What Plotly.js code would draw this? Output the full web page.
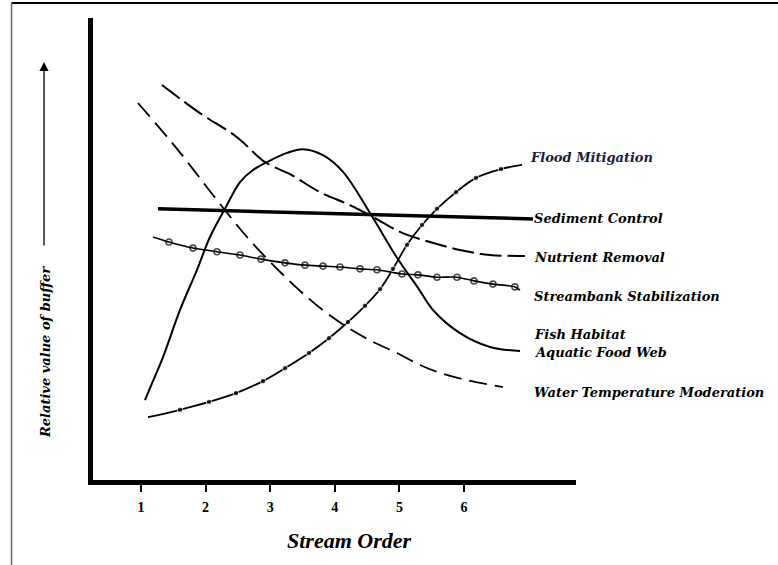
<!DOCTYPE html>
<html>
<head>
<meta charset="utf-8">
<script src="https://cdn.plot.ly/plotly-3.0.1.min.js"></script>
<style>html,body{margin:0;padding:0;background:#fff;}#chart{width:778px;height:565px;}</style>
</head>
<body>
<div id="chart"></div>
<script>
// Stream order positions and relative buffer values (0-100)
const tickValues = [1, 2, 3, 4, 5, 6];
const tickLabels = ["1", "2", "3", "4", "5", "6"];

const floodX = [1.108, 1.604, 2.053, 2.471, 2.889, 3.229, 3.601, 3.910, 4.204, 4.467, 4.700, 4.901, 5.118, 5.350, 5.582, 5.876, 6.186, 6.573, 6.898];
const floodY = [13.6, 15.2, 16.9, 18.8, 21.4, 24.2, 27.5, 30.7, 34.2, 37.7, 41.3, 45.7, 50.9, 55.2, 58.7, 62.3, 65.4, 67.3, 68.2];

const sedimentX = [1.263, 7.068];
const sedimentY = [58.7, 56.5];

const nutrientX = [1.325, 1.913, 2.486, 2.920, 3.307, 3.771, 4.235, 4.622, 5.009, 5.474, 5.938, 6.402, 6.944];
const nutrientY = [85.5, 79.4, 74.2, 68.8, 66.2, 62.3, 59.5, 56.7, 53.7, 51.5, 49.8, 48.7, 48.5];

const streambankX = [1.186, 1.433, 1.805, 2.176, 2.533, 2.858, 3.229, 3.539, 3.817, 4.080, 4.390, 4.653, 5.040, 5.288, 5.582, 5.892, 6.155, 6.449, 6.789, 6.867];
const streambankY = [52.6, 51.5, 50.2, 49.4, 48.7, 47.8, 47.0, 46.5, 46.3, 46.1, 45.7, 45.5, 44.6, 44.4, 43.9, 43.9, 43.1, 42.4, 41.8, 41.1];

const fishX = [1.062, 1.139, 1.341, 1.604, 1.867, 2.068, 2.300, 2.533, 2.734, 2.950, 3.260, 3.508, 3.817, 4.127, 4.545, 4.963, 5.288, 5.520, 5.938, 6.402, 6.867];
const fishY = [17.3, 19.9, 26.6, 36.8, 45.5, 52.6, 58.7, 64.5, 67.1, 68.8, 70.8, 71.6, 70.3, 66.7, 57.8, 48.1, 41.6, 36.8, 31.8, 28.8, 27.9];

const waterX = [0.954, 1.573, 2.176, 2.641, 3.121, 3.570, 3.879, 4.189, 4.591, 4.963, 5.319, 5.628, 6.046, 6.604];
const waterY = [81.6, 71.4, 60.6, 52.6, 45.5, 39.6, 36.1, 33.1, 29.9, 27.5, 24.9, 23.2, 21.6, 20.1];

const seriesLabels = ["Flood Mitigation", "Sediment Control", "Nutrient Removal", "Streambank Stabilization", "Fish Habitat", "Aquatic Food Web", "Water Temperature Moderation"];
const labelX = [6.99, 7.053, 7.053, 7.053, 7.053, 7.053, 7.053];
const labelY = [69.9, 56.5, 48.1, 39.8, 31.6, 27.5, 19.0];

const floodMarkerSize = floodX.map((v, i) => (i === 0 || i === floodX.length - 1) ? 0 : 5.5);
const bankMarkerSize = streambankX.map((v, i) => (i === 0 || i === streambankX.length - 1) ? 0 : 6);

const traces = [
  {x: waterX, y: waterY, mode: 'lines', name: 'Water Temperature Moderation',
   line: {color: '#000', width: 1.8, dash: '18px,8px', shape: 'spline', smoothing: 1}},
  {x: nutrientX, y: nutrientY, mode: 'lines', name: 'Nutrient Removal',
   line: {color: '#000', width: 2, dash: '22px,6px', shape: 'spline', smoothing: 1}},
  {x: fishX, y: fishY, mode: 'lines', name: 'Fish Habitat / Aquatic Food Web',
   line: {color: '#000', width: 2, shape: 'spline', smoothing: 1}},
  {x: sedimentX, y: sedimentY, mode: 'lines', name: 'Sediment Control',
   line: {color: '#000', width: 3.5}},
  {x: streambankX, y: streambankY, mode: 'lines+markers', name: 'Streambank Stabilization',
   line: {color: '#000', width: 1.6, shape: 'spline', smoothing: 0.6},
   marker: {symbol: 'circle-open', size: bankMarkerSize, color: '#000', line: {width: 1.6, color: '#000'}}},
  {x: floodX, y: floodY, mode: 'lines+markers', name: 'Flood Mitigation',
   line: {color: '#000', width: 1.8, shape: 'spline', smoothing: 1},
   marker: {symbol: 'circle', size: floodMarkerSize, color: '#000'}}
];

const labelFont = {family: 'DejaVu Serif, serif', size: 13, color: '#000', weight: 'bold', style: 'italic'};

const annotations = seriesLabels.map((t, i) => ({
  x: labelX[i], y: labelY[i], xref: 'x', yref: 'y', text: t, showarrow: false,
  xanchor: 'left', yanchor: 'middle',
  font: Object.assign({}, labelFont, i === 0 ? {color: '#1b1b3c'} : {})
}));

annotations.push({
  x: 0.532, y: -0.13, xref: 'paper', yref: 'paper', text: 'Stream Order', showarrow: false,
  xanchor: 'center', yanchor: 'middle',
  font: {family: 'Liberation Serif, serif', size: 22, color: '#000', style: 'italic', weight: 'bold'}
});
annotations.push({
  x: -0.0994, y: 0.277, xref: 'paper', yref: 'paper', text: 'Relative value of buffer', showarrow: false,
  textangle: -90, xanchor: 'center', yanchor: 'middle',
  font: {family: 'DejaVu Serif, serif', size: 13, color: '#000', style: 'italic', weight: 'bold'}
});
annotations.push({
  x: -0.1014, y: 0.905, xref: 'paper', yref: 'paper', text: '', showarrow: true,
  ax: 0, ay: 185, axref: 'pixel', ayref: 'pixel',
  arrowhead: 2, arrowsize: 1.4, arrowwidth: 1.3, arrowcolor: '#000'
});

const layout = {
  width: 778, height: 565,
  margin: {l: 93, r: 202, t: 18, b: 85},
  paper_bgcolor: '#fff', plot_bgcolor: '#fff',
  showlegend: false,
  xaxis: {
    range: [0.257, 7.734], showgrid: false, zeroline: false,
    showline: true, linewidth: 5, linecolor: '#000',
    tickmode: 'array', tickvals: tickValues, ticktext: tickLabels,
    ticks: 'outside', ticklen: 7, tickwidth: 2, tickcolor: '#000',
    ticklabelstandoff: 3,
    tickfont: {family: 'Liberation Serif, serif', size: 14, color: '#000', weight: 'bold'}
  },
  yaxis: {
    range: [0, 100], showgrid: false, zeroline: false,
    showline: true, linewidth: 5, linecolor: '#000',
    showticklabels: false, ticks: ''
  },
  annotations: annotations,
  shapes: [
    {type: 'line', xref: 'paper', yref: 'paper', x0: -0.1687, x1: 1.42, y0: 1.0323, y1: 1.0323,
     line: {color: '#000', width: 2}},
    {type: 'line', xref: 'paper', yref: 'paper', x0: -0.1687, x1: -0.1687, y0: 1.0323, y1: -0.2,
     line: {color: '#666', width: 1.5}}
  ]
};

Plotly.newPlot('chart', traces, layout, {displayModeBar: false, staticPlot: true});
</script>
</body>
</html>
